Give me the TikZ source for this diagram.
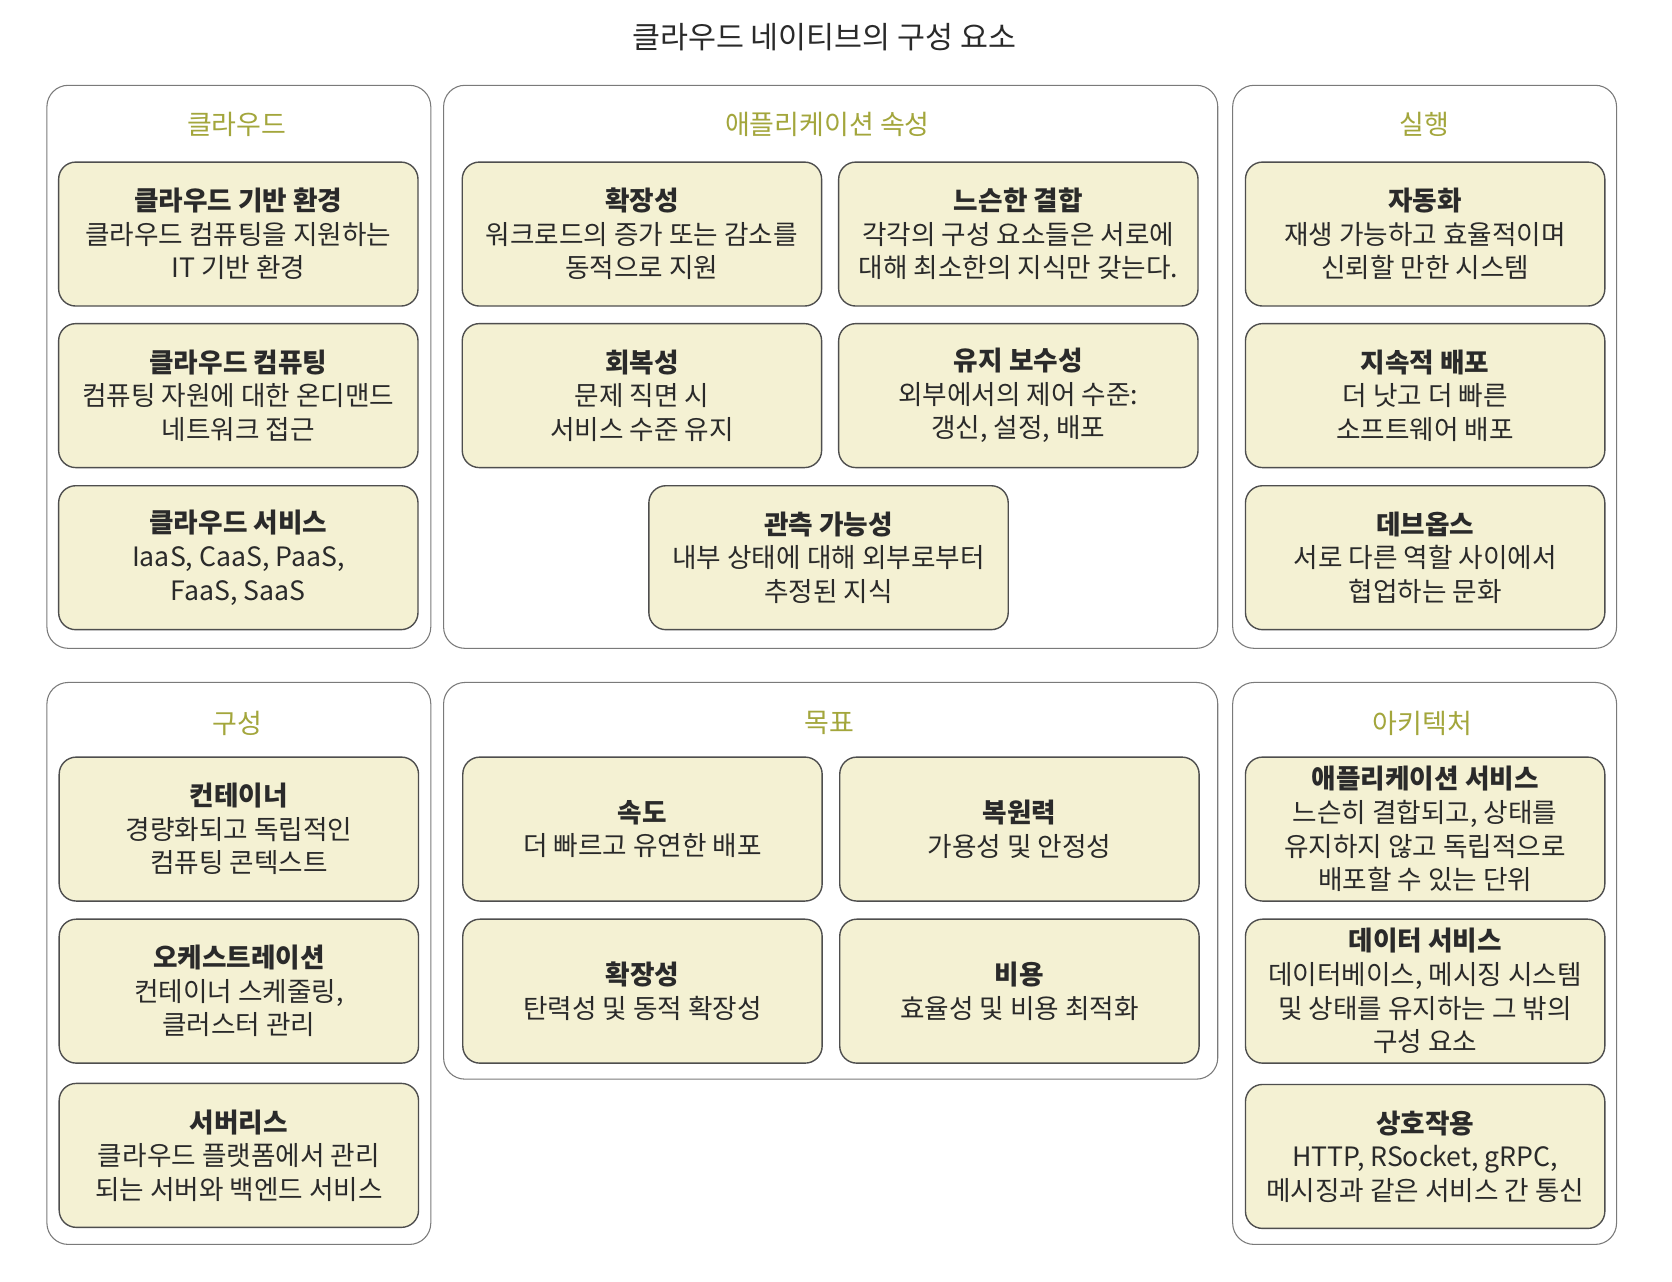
\documentclass[tikz,border=0pt]{standalone}
\usepackage{fontspec}
\setmainfont{Noto Sans CJK KR}
\definecolor{boxfill}{HTML}{F4F1D3}
\definecolor{boxline}{HTML}{4E4E4E}
\definecolor{panelline}{HTML}{7A7A7A}
\definecolor{olive}{HTML}{A3A63C}
\definecolor{txt}{HTML}{2A2A2A}
\tikzset{
  panel/.style={draw=panelline, line width=1pt, rounded corners=20pt},
  card/.style={draw=boxline, fill=boxfill, line width=1.3pt, rounded corners=16pt,
    minimum width=337pt, minimum height=135pt, align=center, inner sep=0pt,
    text=txt, font=\fontsize{25}{31.5}\selectfont},
  ptitle/.style={text=olive, font=\fontsize{25.3}{30}\selectfont},
  mtitle/.style={text=txt, font=\fontsize{28.5}{32}\selectfont}
}
\newcommand{\ct}[1]{{\bfseries #1}}
\begin{document}
\begin{tikzpicture}[x=1pt,y=-1pt]
\useasboundingbox (0,0) rectangle (1568,1202);
\fill[white] (0,0) rectangle (1568,1202);
\node[mtitle] (title) at (773,35) {클라우드 네이티브의 구성 요소};
% panels
\draw[panel] (44,80) rectangle (404,608);
\draw[panel] (416,80) rectangle (1142,608);
\draw[panel] (1156,80) rectangle (1516,608);
\draw[panel] (44,640) rectangle (404,1167);
\draw[panel] (416,640) rectangle (1142,1012);
\draw[panel] (1156,640) rectangle (1516,1167);
% panel titles
\node[ptitle] (t1) at (222,117) {클라우드};
\node[ptitle] (t2) at (776,117) {애플리케이션 속성};
\node[ptitle] (t3) at (1336,117) {실행};
\node[ptitle] (t4) at (223,678) {구성};
\node[ptitle] (t5) at (778,678) {목표};
\node[ptitle] (t6) at (1334,678) {아키텍처};
% cloud
\node[card] (c1) at (223.5,219.5) {\ct{클라우드 기반 환경}\\클라우드 컴퓨팅을 지원하는\\IT 기반 환경};
\node[card] (c2) at (223.5,371) {\ct{클라우드 컴퓨팅}\\컴퓨팅 자원에 대한 온디맨드\\네트워크 접근};
\node[card] (c3) at (223.5,523) {\ct{클라우드 서비스}\\IaaS, CaaS, PaaS,\\FaaS, SaaS};
% app attributes
\node[card] (a1) at (602,219.5) {\ct{확장성}\\워크로드의 증가 또는 감소를\\동적으로 지원};
\node[card] (a2) at (955,219.5) {\ct{느슨한 결합}\\각각의 구성 요소들은 서로에\\대해 최소한의 지식만 갖는다.};
\node[card] (a3) at (602,371) {\ct{회복성}\\문제 직면 시\\서비스 수준 유지};
\node[card] (a4) at (955,371) {\ct{유지 보수성}\\외부에서의 제어 수준:\\갱신, 설정, 배포};
\node[card] (a5) at (777,523) {\ct{관측 가능성}\\내부 상태에 대해 외부로부터\\추정된 지식};
% run
\node[card] (r1) at (1336.5,219.5) {\ct{자동화}\\재생 가능하고 효율적이며\\신뢰할 만한 시스템};
\node[card] (r2) at (1336.5,371) {\ct{지속적 배포}\\더 낫고 더 빠른\\소프트웨어 배포};
\node[card] (r3) at (1336.5,523) {\ct{데브옵스}\\서로 다른 역할 사이에서\\협업하는 문화};
% composition
\node[card] (k1) at (224,777.5) {\ct{컨테이너}\\경량화되고 독립적인\\컴퓨팅 콘텍스트};
\node[card] (k2) at (224,929.5) {\ct{오케스트레이션}\\컨테이너 스케줄링,\\클러스터 관리};
\node[card] (k3) at (224,1083.5) {\ct{서버리스}\\클라우드 플랫폼에서 관리\\되는 서버와 백엔드 서비스};
% goals
\node[card] (g1) at (602.5,777.5) {\ct{속도}\\더 빠르고 유연한 배포};
\node[card] (g2) at (956,777.5) {\ct{복원력}\\가용성 및 안정성};
\node[card] (g3) at (602.5,929.5) {\ct{확장성}\\탄력성 및 동적 확장성};
\node[card] (g4) at (956,929.5) {\ct{비용}\\효율성 및 비용 최적화};
% architecture
\node[card] (h1) at (1336.5,777.5) {\ct{애플리케이션 서비스}\\느슨히 결합되고, 상태를\\유지하지 않고 독립적으로\\배포할 수 있는 단위};
\node[card] (h2) at (1336.5,929.5) {\ct{데이터 서비스}\\데이터베이스, 메시징 시스템\\및 상태를 유지하는 그 밖의\\구성 요소};
\node[card] (h3) at (1336.5,1084.5) {\ct{상호작용}\\HTTP, RSocket, gRPC,\\메시징과 같은 서비스 간 통신};
\end{tikzpicture}
\end{document}
